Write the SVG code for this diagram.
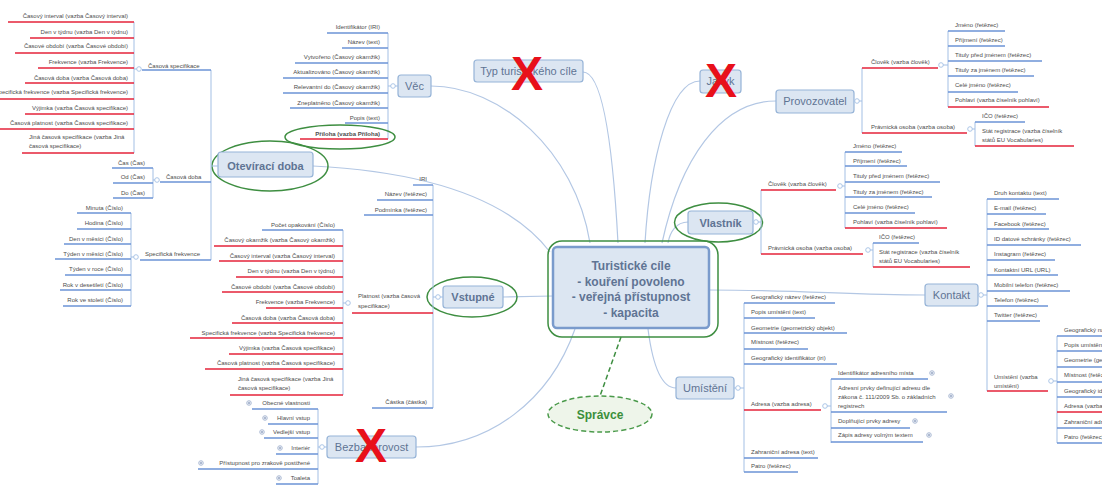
<svg xmlns="http://www.w3.org/2000/svg" xmlns:xlink="http://www.w3.org/1999/xlink" width="1102" height="489" viewBox="0 0 1102 489">
<defs>
<style>
.t{font-family:"Liberation Sans",Arial,sans-serif;font-size:6px;fill:#4d4d4d}
.e{text-anchor:end}
.b{font-weight:bold}
.ub{stroke:#6b93d6;stroke-width:1.4;fill:none}
.ur{stroke:#e4233a;stroke-width:1.4;fill:none}
.sp{stroke:#a3bfe4;stroke-width:1;fill:none}
.con{stroke:#b3c7e4;stroke-width:1.2;fill:none}
.box{fill:#dce6f2;stroke:#95b3d7;stroke-width:1.2}
.nt{font-family:"Liberation Sans",Arial,sans-serif;font-size:11px;fill:#5f7494;text-anchor:middle}
.ring{fill:none;stroke:#3e8e41;stroke-width:1.5}
.knob{fill:#fff;stroke:#a3bfe4;stroke-width:0.9}
.cross{font-family:"Liberation Sans",Arial,sans-serif;font-weight:bold;font-size:48px;fill:#e8101a;text-anchor:middle}
</style>
<g id="plus"><circle r="2.3" fill="#fff" stroke="#9aaccc" stroke-width="0.8"/><path d="M-1.3,0H1.3M0,-1.3V1.3" stroke="#7f93b8" stroke-width="0.8"/></g>
</defs>
<rect width="1102" height="489" fill="#fff"/>

<!-- main connectors from the central topic -->
<g id="connectors">
<path class="con" d="M431,86 C500,86 575,150 590,243"/>
<path class="con" d="M583,72 C600,72 612,130 618,243"/>
<path class="con" d="M700,81 C670,81 650,160 645,243"/>
<path class="con" d="M776,101 C720,101 680,160 662,243"/>
<path class="con" d="M688,222 C676,222 670,232 668,243"/>
<path class="con" d="M313,166 C430,172 510,200 550,252"/>
<path class="con" d="M503,297 L553,296"/>
<path class="con" d="M709,290 C800,290 850,295 925,295"/>
<path class="con" d="M676,388 C660,388 652,360 648,329"/>
<path class="con" d="M416,447 C490,447 550,400 575,329"/>
<path d="M621,337 L600,396" stroke="#3e8e41" stroke-width="1.5" stroke-dasharray="5 3" fill="none"/>
</g>

<!-- central topic -->
<g id="center">
<rect x="548" y="241" width="170" height="96" rx="14" class="ring"/>
<rect x="553" y="247" width="156" height="81" rx="4" fill="#dce6f2" stroke="#7a9bcc" stroke-width="2.5"/>
<g font-family="Liberation Sans,Arial,sans-serif" font-size="12" font-weight="bold" fill="#5f7494" text-anchor="middle">
<text x="631" y="270">Turistické cíle</text>
<text x="631" y="286">- kouření povoleno</text>
<text x="631" y="301">- veřejná přístupnost</text>
<text x="631" y="317">- kapacita</text>
</g>
</g>

<!-- Věc -->
<g id="vec">
<rect class="box" x="398" y="75" width="33" height="22" rx="3"/>
<text class="nt" x="414.5" y="90">Věc</text>
<path class="sp" d="M388,86H398M388,33V139"/>
<circle class="knob" cx="393" cy="86" r="2.3"/>
<text class="t e" x="380" y="29">Identifikátor (IRI)</text><path class="ub" d="M327,33H388"/>
<text class="t e" x="380" y="44">Název (text)</text><path class="ub" d="M342,48H388"/>
<text class="t e" x="380" y="59">Vytvořeno (Časový okamžik)</text><path class="ub" d="M295,63H388"/>
<text class="t e" x="380" y="74">Aktualizováno (Časový okamžik)</text><path class="ub" d="M283,78H388"/>
<text class="t e" x="380" y="89">Relevantní do (Časový okamžik)</text><path class="ub" d="M283,93H388"/>
<text class="t e" x="380" y="105">Zneplatněno (Časový okamžik)</text><path class="ub" d="M290,108H388"/>
<text class="t e" x="380" y="120">Popis (text)</text><path class="ub" d="M345,123H388"/>
<text class="t e b" x="380" y="136">Příloha (vazba Příloha)</text><path class="ur" d="M300,139H388"/>
<ellipse class="ring" cx="340" cy="137" rx="55" ry="12"/>
</g>

<!-- Typ turistického cíle -->
<g id="typ">
<rect class="box" x="474" y="60" width="109" height="22" rx="3"/>
<text class="nt" x="528.5" y="75">Typ turistického cíle</text>
<text class="cross" x="527" y="90">X</text>
</g>

<!-- Jazyk -->
<g id="jazyk">
<rect class="box" x="700" y="70" width="41" height="23" rx="3"/>
<text class="nt" x="720.5" y="85">Jazyk</text>
<text class="cross" x="721" y="97">X</text>
</g>

<!-- Provozovatel -->
<g id="provozovatel">
<rect class="box" x="776" y="90" width="78" height="23" rx="3"/>
<text class="nt" x="815" y="105">Provozovatel</text>
<path class="sp" d="M854,101H862M862,68V133"/>
<circle class="knob" cx="857" cy="101" r="2.3"/>
<text class="t" x="871" y="64">Člověk (vazba člověk)</text><path class="ur" d="M862,68H938"/>
<text class="t" x="871" y="129">Právnická osoba (vazba osoba)</text><path class="ur" d="M862,133H967"/>
<path class="sp" d="M943,65H948M948,31V107M972,129H975M975,122V146"/>
<circle class="knob" cx="941" cy="65" r="2.3"/>
<circle class="knob" cx="970" cy="129" r="2.3"/>
<text class="t" x="955" y="27">Jméno (řetězec)</text><path class="ub" d="M948,31H1005"/>
<text class="t" x="955" y="42">Příjmení (řetězec)</text><path class="ub" d="M948,46H1005"/>
<text class="t" x="955" y="57">Tituly před jménem (řetězec)</text><path class="ub" d="M948,61H1042"/>
<text class="t" x="955" y="72">Tituly za jménem (řetězec)</text><path class="ub" d="M948,76H1034"/>
<text class="t" x="955" y="87">Celé jméno (řetězec)</text><path class="ub" d="M948,92H1018"/>
<text class="t" x="955" y="102">Pohlaví (vazba číselník pohlaví)</text><path class="ur" d="M948,107H1049"/>
<text class="t" x="982" y="118">IČO (řetězec)</text><path class="ub" d="M975,122H1025"/>
<text class="t" x="982" y="133">Stát registrace (vazba číselník<tspan x="982" dy="9">států EU Vocabularies)</tspan></text><path class="ur" d="M975,146H1074"/>
</g>

<!-- Otevírací doba -->
<g id="oteviraci-doba">
<ellipse class="ring" cx="270" cy="166" rx="58" ry="25"/>
<rect class="box" x="218" y="152" width="95" height="25" rx="3"/>
<text class="nt b" x="265.5" y="170" font-size="12">Otevírací doba</text>
<path class="sp" d="M211,166H218M211,70V260"/>
<text class="t" x="148" y="68">Časová specifikace</text><path class="ub" d="M142,70H211"/>
<text class="t" x="166" y="179">Časová doba</text><path class="ub" d="M160,182H211"/>
<text class="t" x="145" y="256">Specifická frekvence</text><path class="ub" d="M140,260H211"/>
<path class="sp" d="M134,22V153M134,69H137M153,168V198M153,180H155M131,213V306M131,257H134"/>
<circle class="knob" cx="139" cy="69" r="2.3"/>
<circle class="knob" cx="157" cy="180" r="2.3"/>
<circle class="knob" cx="136" cy="257" r="2.3"/>
<text class="t e" x="128" y="18">Časový interval (vazba Časový interval)</text><path class="ur" d="M8,22H134"/>
<text class="t e" x="128" y="34">Den v týdnu (vazba Den v týdnu)</text><path class="ur" d="M30,38H134"/>
<text class="t e" x="128" y="48">Časové období (vazba Časové období)</text><path class="ur" d="M15,53H134"/>
<text class="t e" x="128" y="64">Frekvence (vazba Frekvence)</text><path class="ur" d="M38,68H134"/>
<text class="t e" x="128" y="80">Časová doba (vazba Časová doba)</text><path class="ur" d="M25,83H134"/>
<text class="t e" x="128" y="94">Specifická frekvence (vazba Specifická frekvence)</text><path class="ur" d="M0,99H134"/>
<text class="t e" x="128" y="110">Výjimka (vazba Časová specifikace)</text><path class="ur" d="M25,114H134"/>
<text class="t e" x="128" y="125">Časová platnost (vazba Časová specifikace)</text><path class="ur" d="M0,129H134"/>
<text class="t" x="29" y="139">Jiná časová specifikace (vazba Jiná<tspan x="29" dy="9">časová specifikace)</tspan></text><path class="ur" d="M22,153H134"/>
<text class="t e" x="145" y="165">Čas (Čas)</text><path class="ub" d="M112,168H153"/>
<text class="t e" x="145" y="179">Od (Čas)</text><path class="ub" d="M113,183H153"/>
<text class="t e" x="145" y="195">Do (Čas)</text><path class="ub" d="M113,198H153"/>
<text class="t e" x="123" y="210">Minuta (Číslo)</text><path class="ub" d="M77,213H131"/>
<text class="t e" x="123" y="225">Hodina (Číslo)</text><path class="ub" d="M77,229H131"/>
<text class="t e" x="123" y="241">Den v měsíci (Číslo)</text><path class="ub" d="M64,244H131"/>
<text class="t e" x="123" y="256">Týden v měsíci (Číslo)</text><path class="ub" d="M55,259H131"/>
<text class="t e" x="123" y="271">Týden v roce (Číslo)</text><path class="ub" d="M65,275H131"/>
<text class="t e" x="123" y="287">Rok v desetiletí (Číslo)</text><path class="ub" d="M60,290H131"/>
<text class="t e" x="123" y="302">Rok ve století (Číslo)</text><path class="ub" d="M63,306H131"/>
</g>

<!-- Vstupné -->
<g id="vstupne">
<ellipse class="ring" cx="472" cy="297" rx="45" ry="20"/>
<rect class="box" x="443" y="286" width="60" height="22" rx="3"/>
<text class="nt b" x="473" y="301">Vstupné</text>
<path class="sp" d="M433,297H443M433,185V408"/>
<circle class="knob" cx="438" cy="297" r="2.3"/>
<text class="t e" x="427" y="181">IRI</text><path class="ub" d="M413,185H433"/>
<text class="t e" x="427" y="196">Název (řetězec)</text><path class="ub" d="M377,200H433"/>
<text class="t e" x="427" y="212">Podmínka (řetězec)</text><path class="ub" d="M364,215H433"/>
<text class="t" x="358" y="298">Platnost (vazba časová<tspan x="358" dy="10">specifikace)</tspan></text><path class="ur" d="M352,313H433"/>
<text class="t e" x="427" y="404">Částka (částka)</text><path class="ub" d="M372,408H433"/>
<path class="sp" d="M343,230V395M343,303H346"/>
<circle class="knob" cx="348" cy="303" r="2.3"/>
<text class="t e" x="335" y="227">Počet opakování (Číslo)</text><path class="ub" d="M262,230H343"/>
<text class="t e" x="335" y="242">Časový okamžik (vazba Časový okamžik)</text><path class="ur" d="M214,246H343"/>
<text class="t e" x="335" y="258">Časový interval (vazba Časový interval)</text><path class="ur" d="M219,261H343"/>
<text class="t e" x="335" y="273">Den v týdnu (vazba Den v týdnu)</text><path class="ur" d="M236,277H343"/>
<text class="t e" x="335" y="289">Časové období (vazba Časové období)</text><path class="ur" d="M222,292H343"/>
<text class="t e" x="335" y="304">Frekvence (vazba Frekvence)</text><path class="ur" d="M266,308H343"/>
<text class="t e" x="335" y="320">Časová doba (vazba Časová doba)</text><path class="ur" d="M232,323H343"/>
<text class="t e" x="335" y="335">Specifická frekvence (vazba Specifická frekvence)</text><path class="ur" d="M190,338H343"/>
<text class="t e" x="335" y="350">Výjimka (vazba Časová specifikace)</text><path class="ur" d="M229,354H343"/>
<text class="t e" x="335" y="365">Časová platnost (vazba Časová specifikace)</text><path class="ur" d="M205,369H343"/>
<text class="t" x="238" y="381">Jiná časová specifikace (vazba Jiná<tspan x="238" dy="9">časová specifikace)</tspan></text><path class="ur" d="M230,395H343"/>
</g>

<!-- Bezbariérovost -->
<g id="bezbarierovost">
<rect class="box" x="327" y="436" width="89" height="22" rx="3"/>
<text class="nt" x="371.5" y="451">Bezbariérovost</text>
<path class="sp" d="M318,447H327M318,409V484"/>
<circle class="knob" cx="322" cy="447" r="2.3"/>
<text class="t e" x="310" y="405">Obecné vlastnosti</text><path class="ub" d="M252,409H318"/><use xlink:href="#plus" x="249" y="403"/>
<text class="t e" x="310" y="420">Hlavní vstup</text><path class="ub" d="M268,424H318"/><use xlink:href="#plus" x="265" y="418"/>
<text class="t e" x="310" y="434">Vedlejší vstup</text><path class="ub" d="M264,438H318"/><use xlink:href="#plus" x="262" y="432"/>
<text class="t e" x="310" y="450">Interiér</text><path class="ub" d="M276,454H318"/><use xlink:href="#plus" x="280" y="448"/>
<text class="t e" x="310" y="465">Přístupnost pro zrakově postižené</text><path class="ub" d="M198,469H318"/><use xlink:href="#plus" x="201" y="463"/>
<text class="t e" x="310" y="480">Toaleta</text><path class="ub" d="M276,484H318"/><use xlink:href="#plus" x="279" y="478"/>
<text class="cross" x="371" y="462">X</text>
</g>

<!-- Vlastník -->
<g id="vlastnik">
<ellipse class="ring" cx="718.5" cy="222.5" rx="44" ry="19.5"/>
<rect class="box" x="688" y="211" width="65" height="23" rx="3"/>
<text class="nt b" x="720.5" y="226.5">Vlastník</text>
<path class="sp" d="M753,222H761M761,190V254"/>
<circle class="knob" cx="756" cy="222" r="2.3"/>
<text class="t" x="768" y="186">Člověk (vazba člověk)</text><path class="ur" d="M761,190H836"/>
<text class="t" x="768" y="250">Právnická osoba (vazba osoba)</text><path class="ur" d="M761,254H863"/>
<path class="sp" d="M842,186H845M845,152V228M870,250H873M873,243V267"/>
<circle class="knob" cx="840" cy="186" r="2.3"/>
<circle class="knob" cx="868" cy="250" r="2.3"/>
<text class="t" x="853" y="148">Jméno (řetězec)</text><path class="ub" d="M845,152H902"/>
<text class="t" x="853" y="163">Příjmení (řetězec)</text><path class="ub" d="M845,166H907"/>
<text class="t" x="853" y="178">Tituly před jménem (řetězec)</text><path class="ub" d="M845,182H940"/>
<text class="t" x="853" y="194">Tituly za jménem (řetězec)</text><path class="ub" d="M845,197H932"/>
<text class="t" x="853" y="209">Celé jméno (řetězec)</text><path class="ub" d="M845,213H915"/>
<text class="t" x="853" y="224">Pohlaví (vazba číselník pohlaví)</text><path class="ur" d="M845,228H947"/>
<text class="t" x="879" y="239">IČO (řetězec)</text><path class="ub" d="M873,243H919"/>
<text class="t" x="879" y="254">Stát registrace (vazba číselník<tspan x="879" dy="9">států EU Vocabularies)</tspan></text><path class="ur" d="M873,267H970"/>
</g>

<!-- Kontakt -->
<g id="kontakt">
<rect class="box" x="925" y="284" width="53" height="22" rx="3"/>
<text class="nt" x="951.5" y="299">Kontakt</text>
<path class="sp" d="M978,295H987M987,199V391"/>
<circle class="knob" cx="981" cy="295" r="2.3"/>
<text class="t" x="994" y="195">Druh kontaktu (text)</text><path class="ub" d="M987,199H1059"/>
<text class="t" x="994" y="210">E-mail (řetězec)</text><path class="ub" d="M987,214H1046"/>
<text class="t" x="994" y="226">Facebook (řetězec)</text><path class="ub" d="M987,229H1049"/>
<text class="t" x="994" y="241">ID datové schránky (řetězec)</text><path class="ub" d="M987,245H1081"/>
<text class="t" x="994" y="256">Instagram (řetězec)</text><path class="ub" d="M987,260H1055"/>
<text class="t" x="994" y="272">Kontaktní URL (URL)</text><path class="ub" d="M987,275H1058"/>
<text class="t" x="994" y="287">Mobilní telefon (řetězec)</text><path class="ub" d="M987,291H1070"/>
<text class="t" x="994" y="302">Telefon (řetězec)</text><path class="ub" d="M987,306H1048"/>
<text class="t" x="994" y="317">Twitter (řetězec)</text><path class="ub" d="M987,321H1040"/>
<text class="t" x="994" y="379">Umístění (vazba<tspan x="994" dy="9">umístění)</tspan></text><path class="ur" d="M987,391H1048"/>
<path class="sp" d="M1053,381H1057M1057,336V443"/>
<circle class="knob" cx="1051" cy="381" r="2.3"/>
<text class="t" x="1064" y="332">Geografický název (řetězec)</text><path class="ub" d="M1057,336H1110"/>
<text class="t" x="1064" y="347">Popis umístění (text)</text><path class="ub" d="M1057,351H1110"/>
<text class="t" x="1064" y="362">Geometrie (geometrický objekt)</text><path class="ub" d="M1057,367H1110"/>
<text class="t" x="1064" y="377">Místnost (řetězec)</text><path class="ub" d="M1057,382H1110"/>
<text class="t" x="1064" y="393">Geografický identifikátor (iri)</text><path class="ub" d="M1057,397H1110"/>
<text class="t" x="1064" y="408">Adresa (vazba adresa)</text><path class="ur" d="M1057,412H1110"/>
<text class="t" x="1064" y="424">Zahraniční adresa (text)</text><path class="ub" d="M1057,428H1110"/>
<text class="t" x="1064" y="439">Patro (řetězec)</text><path class="ub" d="M1057,443H1110"/>
</g>

<!-- Umístění -->
<g id="umisteni">
<rect class="box" x="676" y="377" width="58" height="22" rx="3"/>
<text class="nt" x="705" y="392">Umístění</text>
<path class="sp" d="M734,388H744M744,303V472"/>
<circle class="knob" cx="738" cy="388" r="2.3"/>
<text class="t" x="751" y="299">Geografický název (řetězec)</text><path class="ub" d="M744,303H835"/>
<text class="t" x="751" y="314">Popis umístění (text)</text><path class="ub" d="M744,318H815"/>
<text class="t" x="751" y="330">Geometrie (geometrický objekt)</text><path class="ub" d="M744,333H847"/>
<text class="t" x="751" y="344">Místnost (řetězec)</text><path class="ub" d="M744,349H808"/>
<text class="t" x="751" y="360">Geografický identifikátor (iri)</text><path class="ub" d="M744,364H837"/>
<text class="t" x="751" y="406">Adresa (vazba adresa)</text><path class="ur" d="M744,410H821"/>
<text class="t" x="751" y="454">Zahraniční adresa (text)</text><path class="ub" d="M744,458H818"/>
<text class="t" x="751" y="468">Patro (řetězec)</text><path class="ub" d="M744,472H798"/>
<path class="sp" d="M827,406H831M831,379V443"/>
<circle class="knob" cx="825" cy="406" r="2.3"/>
<text class="t" x="838" y="375">Identifikátor adresního místa</text><path class="ub" d="M831,379H928"/><use xlink:href="#plus" x="932" y="373"/>
<text class="t" x="838" y="390">Adresní prvky definující adresu dle<tspan x="838" dy="9">zákona č. 111/2009 Sb. o základních</tspan><tspan x="838" dy="9">registrech</tspan></text><path class="ub" d="M831,412H947"/><use xlink:href="#plus" x="951" y="396"/>
<text class="t" x="838" y="423">Doplňující prvky adresy</text><path class="ub" d="M831,428H910"/><use xlink:href="#plus" x="915" y="421"/>
<text class="t" x="838" y="437">Zápis adresy volným textem</text><path class="ub" d="M831,442H923"/><use xlink:href="#plus" x="929" y="435"/>
</g>

<!-- Správce -->
<g id="spravce">
<ellipse cx="600" cy="414" rx="52" ry="18" fill="#eef5ea" stroke="#4a9a4a" stroke-width="1.5" stroke-dasharray="5 3"/>
<text x="600" y="419" font-family="Liberation Sans,Arial,sans-serif" font-size="12" font-weight="bold" fill="#3b8f3b" text-anchor="middle">Správce</text>
</g>
</svg>
